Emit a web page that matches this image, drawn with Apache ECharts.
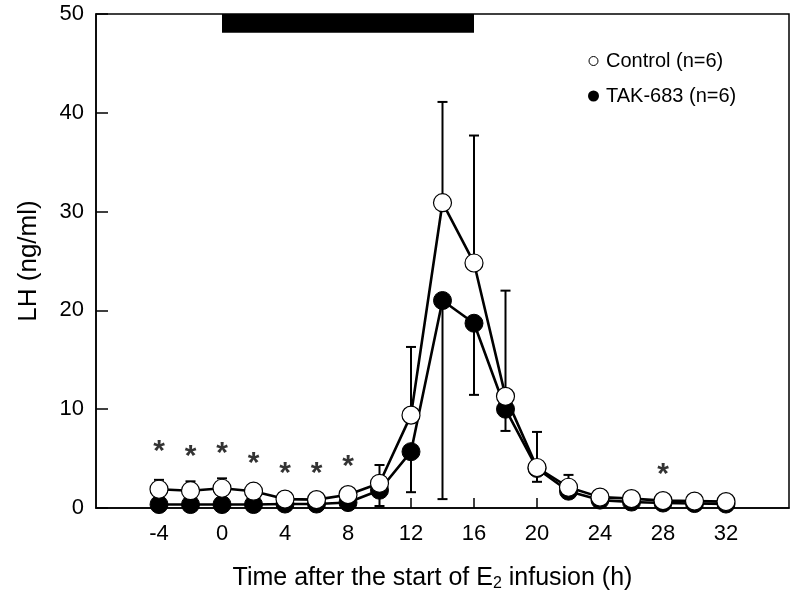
<!DOCTYPE html>
<html>
<head>
<meta charset="utf-8">
<script src="https://cdn.jsdelivr.net/npm/echarts@6/dist/echarts.min.js"></script>
<style>html,body{margin:0;padding:0;background:#fff;}#c{width:793px;height:598px;}</style>
</head>
<body>
<div id="c"></div>
<script>
var hours = [-4,-2,0,2,4,6,8,10,12,14,16,18,20,22,24,26,28,30,32];
var controlMean = [1.9,1.75,2.0,1.7,0.9,0.85,1.35,2.5,9.4,30.9,24.8,11.3,4.1,2.1,1.1,0.95,0.75,0.7,0.65];
var controlUpper = [2.85,2.7,3.0,2.4,1.1,1.0,1.6,4.35,16.3,41.1,37.7,22.0,7.7,3.35,1.4,1.2,0.9,0.85,0.8];
var takMean = [0.35,0.35,0.35,0.35,0.4,0.4,0.55,1.8,5.7,21.0,18.7,10.0,4.0,1.7,0.8,0.6,0.5,0.45,0.4];
var takLower = [0.2,0.2,0.2,0.2,0.25,0.25,0.35,0.2,1.6,0.9,11.45,7.8,2.65,1.2,0.6,0.45,0.35,0.3,0.3];
var starHours = [-4,-2,0,2,4,6,8,28];
var starLevels = [6.4,5.9,6.2,5.2,4.2,4.2,4.9,4.1];
var infusionStart = 0, infusionEnd = 16;
var xTickLabels = ['-4','0','4','8','12','16','20','24','28','32'];
var yTickLabels = ['0','10','20','30','40','50'];

var FONT = 'Liberation Sans, Arial, sans-serif';

function zip(a, b, c) { return a.map(function (v, i) { return c ? [v, b[i], c[i]] : [v, b[i]]; }); }

function errRender(params, api) {
  var x = api.value(0), y0 = api.value(1), y1 = api.value(2);
  var p0 = api.coord([x, y0]), p1 = api.coord([x, y1]);
  var hw = 5;
  var st = { stroke: '#000', lineWidth: 2 };
  return {
    type: 'group',
    children: [
      { type: 'line', shape: { x1: p0[0], y1: p0[1], x2: p1[0], y2: p1[1] }, style: st },
      { type: 'line', shape: { x1: p1[0] - hw, y1: p1[1], x2: p1[0] + hw, y2: p1[1] }, style: st }
    ]
  };
}

var chart = echarts.init(document.getElementById('c'), null, { renderer: 'canvas' });
chart.setOption({
  animation: false,
  backgroundColor: '#fff',
  grid: { left: 96, right: 4, top: 14, bottom: 90, show: true, borderColor: '#000', borderWidth: 1.5, backgroundColor: 'transparent' },
  legend: {
    data: [
      { name: 'Control (n=6)', icon: 'circle', itemStyle: { color: '#fff', borderColor: '#000', borderWidth: 1 } },
      { name: 'TAK-683 (n=6)', icon: 'circle', itemStyle: { color: '#000' } }
    ],
    orient: 'vertical', left: 583, top: 46, itemWidth: 15, itemHeight: 9, itemGap: 15,
    textStyle: { fontFamily: FONT, fontSize: 20, color: '#000' }
  },
  xAxis: {
    type: 'value', min: -8, max: 36, interval: 4,
    axisLine: { onZero: false, lineStyle: { color: '#000', width: 1.5 } },
    axisTick: { inside: true, length: 10, lineStyle: { color: '#000', width: 1.5 } },
    splitLine: { show: false },
    axisLabel: {
      fontFamily: FONT, fontSize: 22, color: '#000', margin: 15,
      showMinLabel: false, showMaxLabel: false,
      formatter: function (v) { var s = String(v); return xTickLabels.indexOf(s) >= 0 ? s : ''; }
    },
    name: 'Time after the start of E{sub|2} infusion (h)',
    nameLocation: 'middle', nameGap: 56,
    nameTextStyle: {
      fontFamily: FONT, fontSize: 25, color: '#000', padding: [0, 20, 0, 0],
      rich: { sub: { fontFamily: FONT, fontSize: 16, color: '#000', verticalAlign: 'bottom', padding: [12, 0, 0, 0] } }
    }
  },
  yAxis: {
    type: 'value', min: 0, max: 50, interval: 10,
    axisLine: { show: true, onZero: false, lineStyle: { color: '#000', width: 1.5 } },
    axisTick: { show: true, inside: true, length: 12, lineStyle: { color: '#000', width: 1.5 } },
    splitLine: { show: false },
    axisLabel: {
      fontFamily: FONT, fontSize: 22, color: '#000', margin: 12,
      formatter: function (v) { var s = String(v); return yTickLabels.indexOf(s) >= 0 ? s : ''; }
    },
    name: 'LH (ng/ml)', nameLocation: 'middle', nameGap: 54,
    nameTextStyle: { fontFamily: FONT, fontSize: 26, color: '#000' }
  },
  series: [
    {
      name: 'ctrlErr', type: 'custom', renderItem: errRender, data: zip(hours, controlMean, controlUpper),
      z: 1, silent: true, encode: { x: 0, y: [1, 2] }
    },
    {
      name: 'takErr', type: 'custom', renderItem: errRender, data: zip(hours, takMean, takLower),
      z: 1, silent: true, encode: { x: 0, y: [1, 2] }
    },
    {
      name: 'TAK-683 (n=6)', type: 'line', data: zip(hours, takMean), z: 3,
      symbol: 'circle', symbolSize: 18,
      lineStyle: { color: '#000', width: 2.6 },
      itemStyle: { color: '#000', borderColor: '#000', borderWidth: 1 }
    },
    {
      name: 'Control (n=6)', type: 'line', data: zip(hours, controlMean), z: 4,
      symbol: 'circle', symbolSize: 18,
      lineStyle: { color: '#000', width: 2.6 },
      itemStyle: { color: '#fff', borderColor: '#000', borderWidth: 1.2 }
    },
    {
      name: 'stars', type: 'scatter', data: zip(starHours, starLevels), z: 5,
      symbolSize: 1, itemStyle: { color: 'rgba(0,0,0,0)' },
      label: { show: true, position: 'inside', formatter: '*', fontFamily: FONT, fontSize: 30, fontWeight: 'bold', color: '#000', offset: [0, 7] },
      markArea: {
        silent: true,
        itemStyle: { color: '#000', opacity: 1 },
        data: [[{ xAxis: infusionStart, yAxis: 48.1 }, { xAxis: infusionEnd, yAxis: 50 }]]
      }
    }
  ]
});
</script>
</body>
</html>
